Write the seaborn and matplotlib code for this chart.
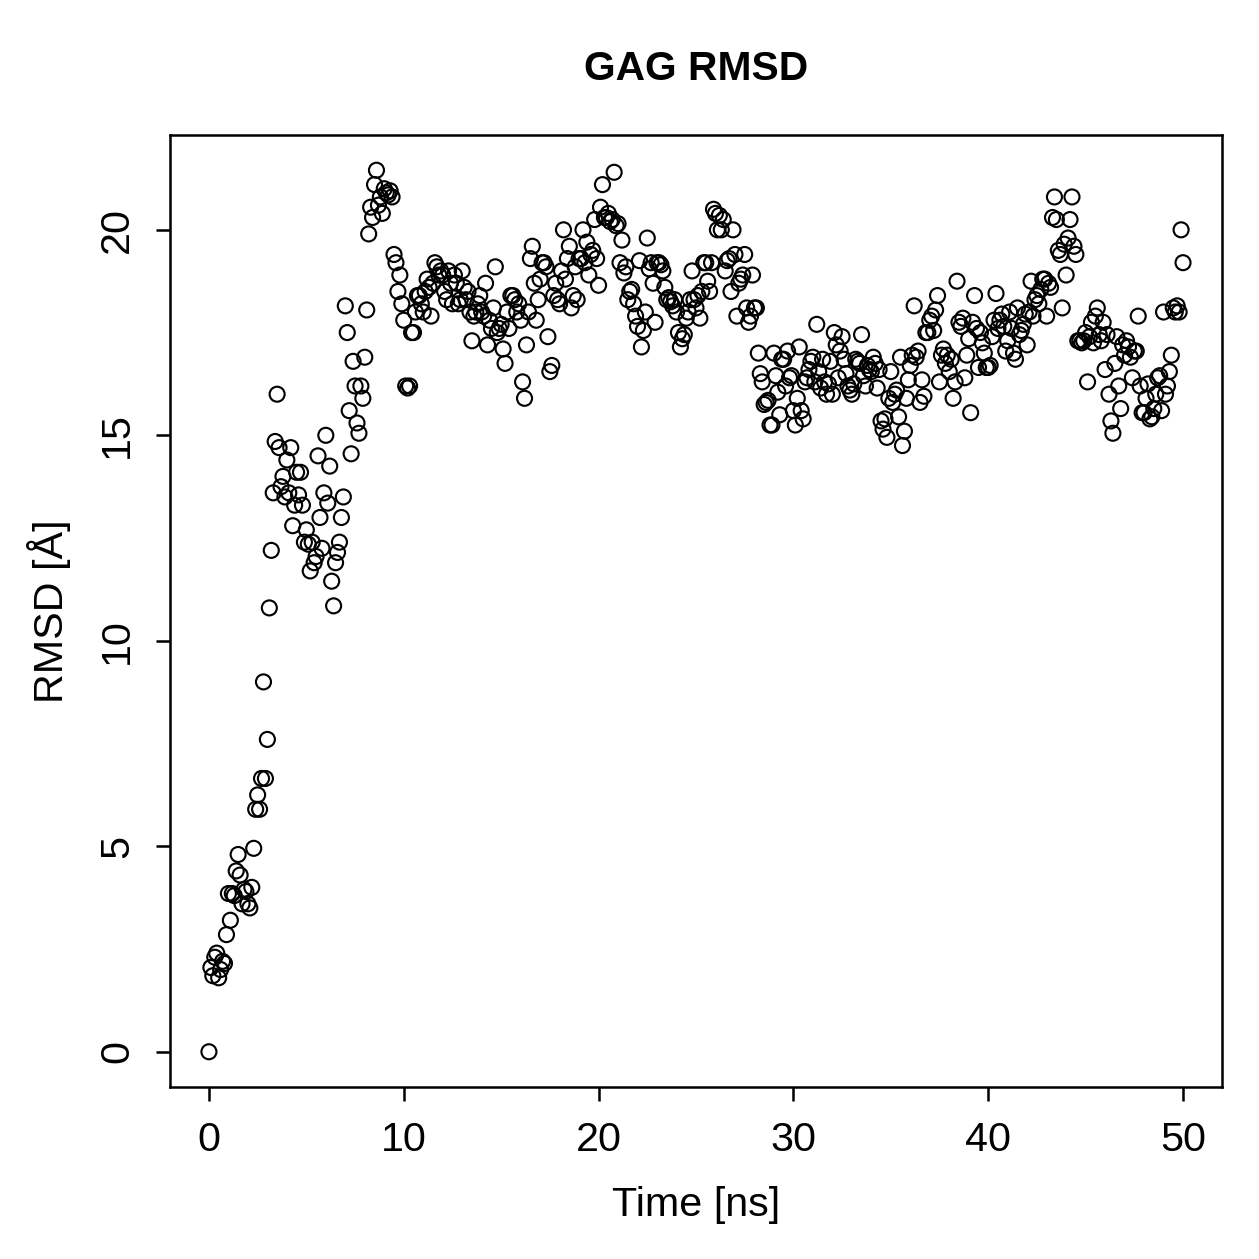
import numpy as np
import pandas as pd
import matplotlib.pyplot as plt
import seaborn as sns

# RMSD, one value every 0.1 ns (rows of 1 ns)
rmsd_00_10 = [
    0.0, 2.05, 1.85, 2.3, 2.4, 1.8, 2.0, 2.2, 2.15, 2.85,
    3.85, 3.2, 3.85, 3.8, 4.4, 4.8, 4.3, 3.6, 3.95, 3.9,
    3.6, 3.5, 4.0, 4.95, 5.9, 6.25, 5.9, 6.65, 9.0, 6.65,
    7.6, 10.8, 12.2, 13.6, 14.85, 16.0, 14.7, 13.75, 14.0, 13.5,
    14.4, 13.6, 14.7, 12.8, 13.3, 14.1, 13.55, 14.1, 13.3, 12.4,
    12.7, 12.35, 11.7, 12.4, 11.9, 12.05, 14.5, 13.0, 12.25, 13.6,
    15.0, 13.35, 14.25, 11.45, 10.85, 11.9, 12.15, 12.4, 13.0, 13.5,
    18.15, 17.5, 15.6, 14.55, 16.8, 16.2, 15.3, 15.05, 16.2, 15.9,
    16.9, 18.05, 19.9, 20.55, 20.3, 21.1, 21.45, 20.6, 20.8, 20.4,
    21.0, 20.9, 20.85, 20.95, 20.8, 19.4, 19.2, 18.5, 18.9, 18.2,
]
rmsd_10_20 = [
    17.8, 16.2, 16.15, 16.2, 17.5, 17.5, 18.0, 18.4, 18.4, 18.2,
    18.0, 18.5, 18.8, 18.6, 17.9, 18.7, 19.2, 19.1, 18.9, 19.0,
    18.9, 18.5, 18.3, 19.0, 18.7, 18.2, 18.9, 18.7, 18.2, 18.3,
    19.0, 18.6, 18.3, 18.5, 18.0, 17.3, 17.9, 18.0, 18.2, 18.4,
    18.0, 17.9, 18.7, 17.2, 17.8, 17.6, 18.1, 19.1, 17.5, 17.6,
    17.7, 17.1, 16.75, 18.0, 17.6, 18.4, 18.4, 18.3, 18.0, 18.2,
    17.8, 16.3, 15.9, 17.2, 18.0, 19.3, 19.6, 18.7, 17.8, 18.3,
    18.8, 19.2, 19.2, 19.1, 17.4, 16.55, 16.7, 18.4, 18.7, 18.3,
    18.2, 19.0, 20.0, 18.8, 19.3, 19.6, 18.1, 18.4, 19.1, 18.3,
    19.3, 19.3, 20.0, 19.2, 19.7, 18.9, 19.4, 19.5, 20.25, 19.3,
]
rmsd_20_30 = [
    18.65, 20.55, 21.1, 20.3, 20.3, 20.4, 20.2, 20.25, 21.4, 20.1,
    20.15, 19.2, 19.75, 18.95, 19.1, 18.3, 18.5, 18.55, 18.2, 17.9,
    17.65, 19.25, 17.15, 17.55, 18.0, 19.8, 19.05, 19.2, 18.7, 17.75,
    19.2, 19.2, 19.15, 19.0, 18.6, 18.3, 18.35, 18.25, 18.15, 18.3,
    18.0, 17.5, 17.15, 17.35, 17.45, 17.85, 18.0, 18.3, 19.0, 18.3,
    18.1, 18.4, 17.85, 18.5, 19.2, 19.2, 18.75, 18.5, 19.2, 20.5,
    20.4, 20.0, 20.35, 20.0, 20.25, 19.0, 19.25, 19.3, 18.5, 20.0,
    19.4, 17.9, 18.7, 18.8, 18.9, 19.4, 18.1, 17.75, 17.9, 18.9,
    18.1, 18.1, 17.0, 16.5, 16.3, 15.75, 15.8, 15.85, 15.25, 15.25,
    17.0, 16.45, 16.05, 15.5, 16.85, 16.85, 16.2, 17.05, 16.4, 16.45,
]
rmsd_30_40 = [
    15.6, 15.25, 15.9, 17.15, 15.6, 15.4, 16.3, 16.4, 16.6, 16.8,
    16.9, 16.3, 17.7, 16.55, 16.15, 16.85, 16.3, 16.0, 16.25, 16.8,
    16.0, 17.5, 17.2, 16.4, 17.05, 17.4, 16.85, 16.5, 16.2, 16.1,
    16.0, 16.25, 16.85, 16.8, 16.75, 17.45, 16.45, 16.2, 16.7, 16.6,
    16.55, 16.9, 16.75, 16.15, 16.6, 15.35, 15.15, 15.4, 14.95, 15.9,
    16.55, 15.8, 16.0, 16.1, 15.45, 16.9, 14.75, 15.1, 15.9, 16.35,
    16.7, 16.95, 18.15, 16.9, 17.05, 15.8, 16.35, 15.95, 17.5, 17.5,
    17.8, 17.9, 17.55, 18.05, 18.4, 16.3, 16.95, 17.1, 16.75, 16.95,
    16.55, 16.85, 15.9, 16.3, 18.75, 17.75, 17.65, 17.85, 16.4, 16.95,
    17.35, 15.55, 17.75, 18.4, 17.6, 16.65, 17.5, 17.25, 17.0, 16.65,
]
rmsd_40_50 = [
    16.65, 16.7, 17.4, 17.8, 18.45, 17.6, 17.8, 17.95, 17.65, 17.05,
    17.3, 18.0, 17.6, 17.0, 16.85, 18.1, 17.45, 17.55, 17.7, 17.95,
    17.2, 18.0, 18.75, 17.9, 18.3, 18.4, 18.2, 18.55, 18.8, 18.8,
    17.9, 18.7, 18.6, 20.3, 20.8, 20.25, 19.5, 19.4, 18.1, 19.65,
    18.9, 19.8, 20.25, 20.8, 19.6, 19.4, 17.3, 17.3, 17.25, 17.3,
    17.5, 16.3, 17.4, 17.75, 17.25, 17.9, 18.1, 17.45, 17.3, 17.75,
    16.6, 17.45, 16.0, 15.35, 15.05, 16.75, 17.4, 16.2, 15.65, 17.2,
    16.95, 17.3, 17.15, 16.9, 16.4, 17.05, 17.05, 17.9, 16.2, 15.55,
    15.55, 15.9, 16.25, 15.4, 15.45, 15.65, 16.0, 16.4, 16.45, 15.6,
    18.0, 16.0, 16.2, 16.55, 16.95, 18.1, 18.0, 18.15, 18.0, 20.0,
    19.2,
]

rmsd = rmsd_00_10 + rmsd_10_20 + rmsd_20_30 + rmsd_30_40 + rmsd_40_50
time_ns = np.round(np.arange(len(rmsd)) * 0.1, 1)
df = pd.DataFrame({"time": time_ns, "rmsd": rmsd})

sns.set_style("ticks")
plt.rcParams['font.family'] = ['Liberation Sans', 'DejaVu Sans']
plt.rcParams.update({
    "text.color": "black",
    "axes.labelcolor": "black",
    "xtick.color": "black",
    "ytick.color": "black",
    "axes.edgecolor": "black",
})

fig = plt.figure(figsize=(1259 / 180, 1259 / 180), dpi=180)
ax = fig.add_axes([0.135, 0.1366, 0.8356, 0.7562])

sns.scatterplot(data=df, x="time", y="rmsd", ax=ax, marker="o", s=36,
                color="black", linewidth=0.85)
ax.collections[0].set_facecolor("none")
ax.collections[0].set_edgecolor("black")

# R-style 4% padding
xr = df["time"].max() - df["time"].min()
yr = df["rmsd"].max() - df["rmsd"].min()
ax.set_xlim(df["time"].min() - 0.04 * xr, df["time"].max() + 0.04 * xr)
ax.set_ylim(df["rmsd"].min() - 0.04 * yr, df["rmsd"].max() + 0.04 * yr)

ax.set_xticks([0, 10, 20, 30, 40, 50])
ax.set_yticks([0, 5, 10, 15, 20])
ax.tick_params(axis="both", direction="out", length=5.5, width=1.0,
               labelsize=16.5, pad=8, color="black", labelcolor="black")
for lab in ax.get_yticklabels():
    lab.set_rotation(90)
    lab.set_va("center")

for sp in ax.spines.values():
    sp.set_visible(True)
    sp.set_linewidth(1.0)
    sp.set_color("black")

ax.set_xlabel("Time [ns]", fontsize=16.5, labelpad=11)
ax.set_ylabel("RMSD [Å]", fontsize=16.5, labelpad=11)
ax.set_title("GAG RMSD", fontsize=16.3, fontweight="bold", pad=22)

fig.savefig("out.png", dpi=180)
